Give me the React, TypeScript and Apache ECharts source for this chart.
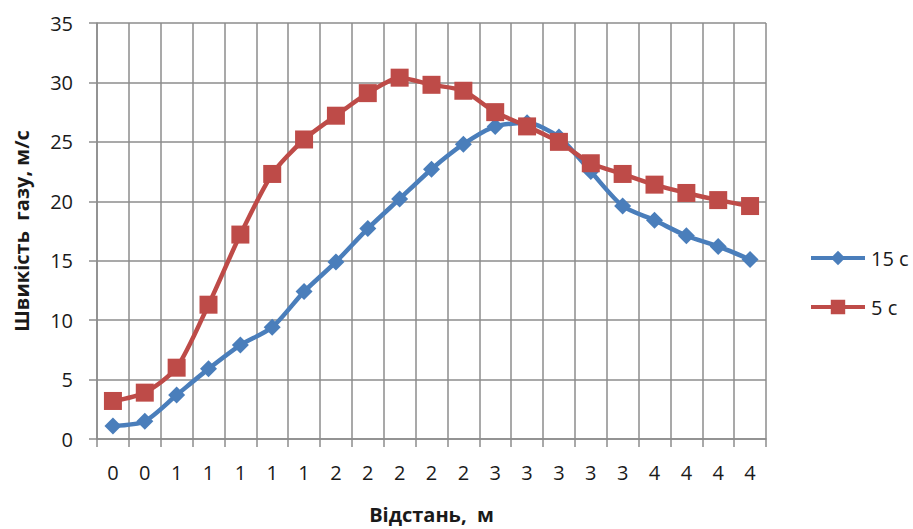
import React, { useEffect, useRef } from "react";
import * as echarts from "echarts";

const distanceLabels = ["0", "0", "1", "1", "1", "1", "1", "2", "2", "2", "2", "2", "3", "3", "3", "3", "3", "4", "4", "4", "4"];

const speed15s = [1.1, 1.5, 3.7, 5.9, 7.9, 9.4, 12.4, 14.9, 17.7, 20.2, 22.7, 24.8, 26.3, 26.6, 25.4, 22.5, 19.6, 18.4, 17.1, 16.2, 15.1];

const speed5s = [3.2, 3.9, 6.0, 11.3, 17.2, 22.3, 25.2, 27.2, 29.1, 30.4, 29.8, 29.3, 27.5, 26.3, 25.0, 23.2, 22.3, 21.4, 20.7, 20.1, 19.6];

const yTicks = { min: 0, max: 35, interval: 5 };

const FONT = "'Open Sans', 'Noto Sans', sans-serif";
const BLUE = "#4a7ebb";
const RED = "#be4b48";
const GRID = "#8c8c8c";
const INK = "#1a1a1a";

export default function App() {
  const ref = useRef<HTMLDivElement>(null);

  useEffect(() => {
    if (!ref.current) return;
    const chart = echarts.init(ref.current, null, { renderer: "svg" });
    chart.setOption({
      animation: false,
      backgroundColor: "#ffffff",
      grid: { left: 97, top: 23, right: 147, bottom: 86, containLabel: false },
      legend: {
        orient: "vertical",
        left: 804,
        top: 243,
        itemWidth: 54,
        itemHeight: 18,
        itemGap: 29,
        lineStyle: { width: 4 },
        textStyle: { fontFamily: FONT, fontSize: 20, color: INK, padding: [0, 0, 0, 1] },
        data: ["15 c", "5 c"],
      },
      xAxis: {
        type: "category",
        data: distanceLabels,
        boundaryGap: true,
        name: "Відстань,  м",
        nameLocation: "middle",
        nameGap: 65,
        nameTextStyle: { fontFamily: FONT, fontSize: 20, fontWeight: "bold", color: INK },
        axisLine: { lineStyle: { color: GRID, width: 1.5 } },
        axisTick: { show: true, interval: 0, length: 8, lineStyle: { color: GRID, width: 1.5 } },
        axisLabel: { interval: 0, margin: 23, fontFamily: FONT, fontSize: 20, color: INK },
        splitLine: { show: true, interval: 0, lineStyle: { color: GRID, width: 1.5 } },
      },
      yAxis: {
        type: "value",
        min: yTicks.min,
        max: yTicks.max,
        interval: yTicks.interval,
        name: "Швикість  газу, м/с",
        nameLocation: "middle",
        nameGap: 66,
        nameRotate: 90,
        nameTextStyle: { fontFamily: FONT, fontSize: 20, fontWeight: "bold", color: INK },
        axisLine: { show: true, lineStyle: { color: GRID, width: 1.5 } },
        axisTick: { show: true, length: 8, lineStyle: { color: GRID, width: 1.5 } },
        axisLabel: { margin: 24, fontFamily: FONT, fontSize: 20, color: INK },
        splitLine: { show: true, lineStyle: { color: GRID, width: 1.5 } },
      },
      series: [
        {
          name: "15 c",
          type: "line",
          data: speed15s,
          smooth: 0.25,
          symbol: "diamond",
          symbolSize: 17,
          z: 2,
          lineStyle: { color: BLUE, width: 4.5 },
          itemStyle: { color: BLUE },
        },
        {
          name: "5 c",
          type: "line",
          data: speed5s,
          smooth: 0.25,
          symbol: "rect",
          symbolSize: 18,
          z: 3,
          lineStyle: { color: RED, width: 4.5 },
          itemStyle: { color: RED },
        },
      ],
    });
    return () => chart.dispose();
  }, []);

  return <div ref={ref} style={{ width: 913, height: 529, position: "absolute", left: 0, top: 0 }} />;
}
